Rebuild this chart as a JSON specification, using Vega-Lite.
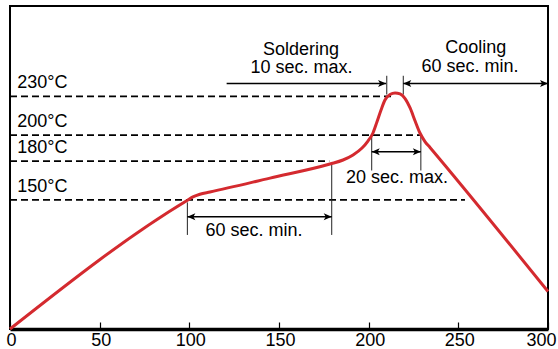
{
  "$schema": "https://vega.github.io/schema/vega-lite/v6.json",
  "width": 538,
  "height": 323,
  "autosize": {"type": "none"},
  "padding": {"left": 10, "top": 6, "right": 10, "bottom": 20},
  "config": {
    "view": {"stroke": "#000", "strokeWidth": 2},
    "font": "Liberation Sans",
    "axisY": {"disable": true}
  },
  "datasets": {
    "curve": [
      {"t": 0, "T": 50}, {"t": 98.5, "T": 149.3}, {"t": 102.0, "T": 152.2}, {"t": 105.9, "T": 154.3},
      {"t": 111.5, "T": 156.0}, {"t": 145.0, "T": 166.8}, {"t": 178.4, "T": 177.7}, {"t": 185.7, "T": 180.8},
      {"t": 191.3, "T": 184.7}, {"t": 196.3, "T": 190.1}, {"t": 199.6, "T": 195.5}, {"t": 202.4, "T": 201.7},
      {"t": 204.6, "T": 210.2}, {"t": 206.9, "T": 219.5}, {"t": 209.1, "T": 227.2}, {"t": 211.9, "T": 231.5},
      {"t": 214.7, "T": 232.7}, {"t": 217.5, "T": 231.9}, {"t": 220.3, "T": 228.4}, {"t": 223.1, "T": 221.1},
      {"t": 225.9, "T": 211.0}, {"t": 228.6, "T": 201.7}, {"t": 231.4, "T": 195.1}, {"t": 234.2, "T": 190.5},
      {"t": 300, "T": 79.0}
    ],
    "levels": [
      {"level": 230, "label": "230°C", "t0": 0, "t1": 214.7},
      {"level": 200, "label": "200°C", "t0": 0, "t1": 228.6},
      {"level": 180, "label": "180°C", "t0": 0, "t1": 178.0},
      {"level": 150, "label": "150°C", "t0": 0, "t1": 253.7}
    ],
    "harrows": [
      {"t0": 120.8, "t1": 209.7, "T": 240},
      {"t0": 219.3, "t1": 300, "T": 240},
      {"t0": 201.7, "t1": 229.1, "T": 187.2},
      {"t0": 98.9, "t1": 179.4, "T": 136.9}
    ],
    "vlines": [
      {"t": 210.1, "T0": 231.5, "T1": 246},
      {"t": 219.3, "T0": 231.5, "T1": 246},
      {"t": 201.7, "T0": 172.7, "T1": 199.4},
      {"t": 229.1, "T0": 172.7, "T1": 199.4},
      {"t": 98.9, "T0": 122.8, "T1": 148},
      {"t": 179.4, "T0": 122.8, "T1": 177.7}
    ],
    "heads": [
      {"t": 209.7, "T": 240, "dir": "right"},
      {"t": 219.3, "T": 240, "dir": "left"},
      {"t": 300, "T": 240, "dir": "right"},
      {"t": 201.7, "T": 187.2, "dir": "left"},
      {"t": 229.1, "T": 187.2, "dir": "right"},
      {"t": 98.9, "T": 136.9, "dir": "left"},
      {"t": 179.4, "T": 136.9, "dir": "right"}
    ],
    "notes": [
      {"txt": "Soldering", "t": 162.3, "T": 262.1},
      {"txt": "10 sec. max.", "t": 162.6, "T": 247.9},
      {"txt": "Cooling", "t": 259.7, "T": 263.6},
      {"txt": "60 sec. min.", "t": 256.5, "T": 249.1},
      {"txt": "20 sec. max.", "t": 215.8, "T": 162.8},
      {"txt": "60 sec. min.", "t": 136.1, "T": 122.0}
    ]
  },
  "layer": [
    {
      "data": {"name": "levels"},
      "mark": {"type": "rule", "strokeDash": [7, 4], "strokeWidth": 1.8, "color": "#000"},
      "encoding": {
        "x": {
          "field": "t0", "type": "quantitative",
          "scale": {"domain": [0, 300], "nice": false, "zero": false},
          "axis": {
            "values": [0, 50, 100, 150, 200, 250, 300],
            "title": null, "grid": false,
            "domainColor": "#000", "domainWidth": 3.5,
            "tickColor": "#000", "tickWidth": 1.2, "tickSize": -7,
            "labelPadding": 9, "labelFontSize": 18, "labelFont": "Liberation Sans",
            "labelColor": "#000", "labelFlush": false,
            "labelOffset": {"condition": {"test": "datum.value == 300", "value": -7}, "value": 1}
          }
        },
        "x2": {"field": "t1"},
        "y": {"field": "level", "type": "quantitative", "scale": {"domain": [50, 300], "nice": false, "zero": false}, "axis": null}
      }
    },
    {
      "data": {"name": "levels"},
      "mark": {"type": "text", "align": "left", "baseline": "alphabetic", "dy": -8, "fontSize": 18, "font": "Liberation Sans", "color": "#000"},
      "encoding": {
        "x": {"datum": 4, "type": "quantitative"},
        "y": {"field": "level", "type": "quantitative", "axis": null},
        "text": {"field": "label"}
      }
    },
    {
      "data": {"name": "vlines"},
      "mark": {"type": "rule", "strokeWidth": 1, "color": "#222"},
      "encoding": {
        "x": {"field": "t", "type": "quantitative"},
        "y": {"field": "T0", "type": "quantitative", "axis": null},
        "y2": {"field": "T1"}
      }
    },
    {
      "data": {"name": "harrows"},
      "mark": {"type": "rule", "strokeWidth": 1.5, "color": "#000"},
      "encoding": {
        "x": {"field": "t0", "type": "quantitative"},
        "x2": {"field": "t1"},
        "y": {"field": "T", "type": "quantitative", "axis": null}
      }
    },
    {
      "data": {"name": "heads"},
      "mark": {"type": "point", "filled": true, "color": "#000", "opacity": 1, "size": 256},
      "encoding": {
        "x": {"field": "t", "type": "quantitative"},
        "y": {"field": "T", "type": "quantitative", "axis": null},
        "shape": {
          "field": "dir", "type": "nominal", "legend": null,
          "scale": {"domain": ["right", "left"], "range": ["M0,0L-1,-0.45L-0.75,0L-1,0.45Z", "M0,0L1,-0.45L0.75,0L1,0.45Z"]}
        }
      }
    },
    {
      "data": {"name": "curve"},
      "mark": {"type": "line", "color": "#d42a2f", "strokeWidth": 3, "interpolate": "monotone"},
      "encoding": {
        "x": {"field": "t", "type": "quantitative"},
        "y": {"field": "T", "type": "quantitative", "axis": null}
      }
    },
    {
      "data": {"name": "notes"},
      "mark": {"type": "text", "align": "center", "baseline": "alphabetic", "fontSize": 18, "font": "Liberation Sans", "color": "#000"},
      "encoding": {
        "x": {"field": "t", "type": "quantitative"},
        "y": {"field": "T", "type": "quantitative", "axis": null},
        "text": {"field": "txt"}
      }
    }
  ]
}
